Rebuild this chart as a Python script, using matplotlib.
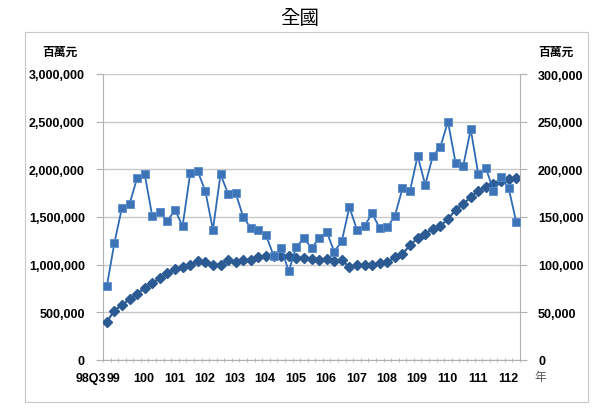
import matplotlib
matplotlib.use('Agg')
import matplotlib.pyplot as plt
from matplotlib.patches import Rectangle
from matplotlib.ticker import FuncFormatter, MultipleLocator

plt.rcParams['font.family'] = ['Liberation Sans', 'Noto Sans CJK TC', 'DejaVu Sans']

# quarters 98Q3 .. 112Q1
n_pts = 55
# left axis (diamonds), 百萬元
total = [401800, 517200, 577000, 636700, 695500, 752100, 804600, 860200, 909500, 954600,
         978700, 996600, 1041700, 1031200, 996600, 996600, 1052100, 1031200, 1052100, 1052100,
         1077300, 1087800, 1094100, 1094100, 1094100, 1066800, 1066800, 1059500, 1052100, 1059500,
         1041700, 1049000, 972400, 996600, 996600, 999700, 1014400, 1024900, 1077300, 1111900,
         1206400, 1276600, 1321700, 1374200, 1408800, 1475900, 1576600, 1636400, 1706700, 1776000,
         1811600, 1846200, 1880900, 1898700, 1909200]
# right axis (squares), 百萬元
quarterly = [77300, 122700, 159800, 163600, 190900, 195100, 150700, 154900, 146100, 157300,
             140600, 195800, 197900, 177000, 136700, 194800, 174400, 175200, 149700, 138500,
             136100, 131100, 109400, 117500, 93000, 118900, 127700, 117200, 128000, 134600,
             113600, 124800, 160500, 136400, 140600, 153900, 138200, 139200, 151100, 180100,
             177600, 214300, 183600, 214000, 223700, 250000, 207000, 203200, 242000, 194800,
             201400, 177600, 191700, 180400, 145100]
year_labels = ['99', '100', '101', '102', '103', '104', '105', '106', '107', '108',
               '109', '110', '111', '112']

x = list(range(n_pts))

fig = plt.figure(figsize=(6, 4.1), dpi=100)
fig.patches.append(Rectangle((25/600, 1-403/410), 563/600, 370/410, transform=fig.transFigure,
                             fill=False, edgecolor='#c8c8c8', linewidth=0.8))

ax = fig.add_axes([103/600, 1-361/410, 417/600, 286/410])
ax2 = ax.twinx()

ax.plot(x, total, color='#2c5b94', marker='D', markersize=5.5, linewidth=1.5,
        markeredgecolor='#2c5b94', zorder=3)
ax2.plot(x, quarterly, color='#2e6bb5', marker='s', markersize=5.5, linewidth=1.3,
         markerfacecolor='#3d74b8', markeredgecolor='#5b8ccc', markeredgewidth=0.6, zorder=3)

ax.set_xlim(-0.5, n_pts - 0.5)
ax.set_ylim(0, 3000000)
ax2.set_ylim(0, 300000)
ax.yaxis.set_major_locator(MultipleLocator(500000))
ax2.yaxis.set_major_locator(MultipleLocator(50000))
fmt = FuncFormatter(lambda v, p: f'{int(v):,}')
ax.yaxis.set_major_formatter(fmt)
ax2.yaxis.set_major_formatter(fmt)
ax.grid(axis='y', color='#c8c8c8', linewidth=1)
ax.set_axisbelow(True)

for a in (ax, ax2):
    for s in a.spines.values():
        s.set_visible(False)
ax.spines['left'].set_visible(True)
ax.spines['left'].set_color('#b0b0b0')
ax2.spines['right'].set_visible(True)
ax2.spines['right'].set_color('#b0b0b0')
ax.spines['bottom'].set_visible(True)
ax.spines['bottom'].set_color('#b0b0b0')

ax.tick_params(axis='y', length=5, color='#b0b0b0', labelsize=9, pad=8)
ax2.tick_params(axis='y', length=5, color='#b0b0b0', labelsize=9, pad=8)
for lab in ax.get_yticklabels() + ax2.get_yticklabels():
    lab.set_fontweight('bold')

# x axis: minor tick per quarter, year labels
ax.set_xticks([i - 0.5 for i in range(n_pts + 1)], minor=True)
ax.tick_params(axis='x', which='minor', length=3, color='#b0b0b0', direction='inout')
pos = [4 * k + 0.9 for k in range(len(year_labels))]
ax.set_xticks(pos)
ax.set_xticklabels(year_labels, fontsize=9, fontweight='bold')
ax.tick_params(axis='x', which='major', length=0, pad=9)
ax.annotate('98Q3', xy=(pos[0], 0), xycoords=('data', 'axes fraction'),
            xytext=(-5.2, -9), textcoords='offset points', ha='right', va='top',
            fontsize=9, fontweight='bold')

fig.text(300/600, 1-18/410, '全國', ha='center', va='center', fontsize=14,
         family=['Noto Sans CJK TC'])
fig.text(60/600, 1-52/410, '百萬元', ha='center', va='center', fontsize=8.5,
         fontweight='bold', family=['Noto Sans CJK TC'])
fig.text(556/600, 1-52/410, '百萬元', ha='center', va='center', fontsize=8.5,
         fontweight='bold', family=['Noto Sans CJK TC'])
fig.text(540/600, 1-378/410, '年', ha='center', va='center', fontsize=8.5,
         color='#555555', family=['Noto Sans CJK TC'])

fig.savefig('out.png', dpi=100)
